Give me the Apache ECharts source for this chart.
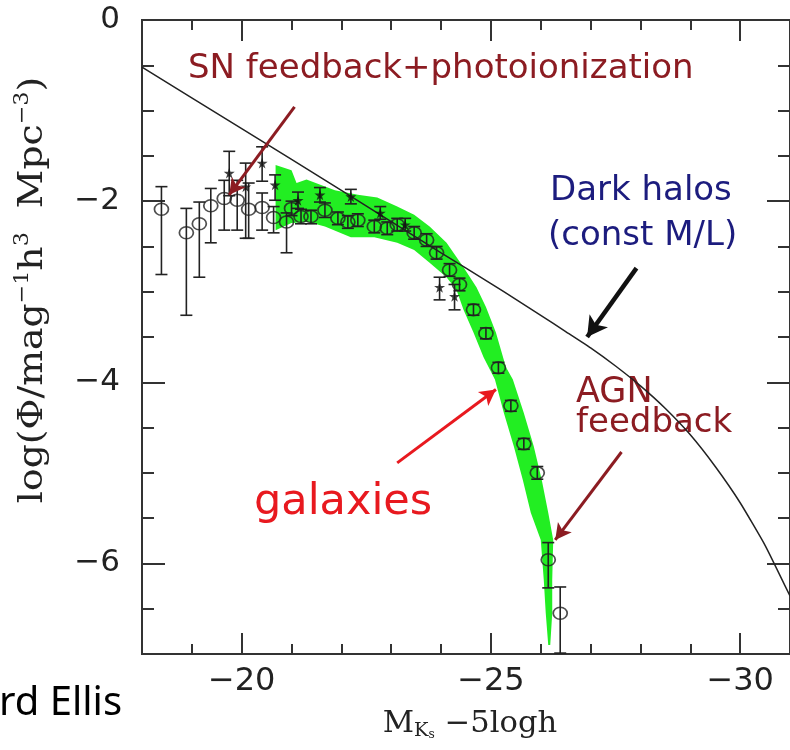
<!DOCTYPE html>
<html>
<head>
<meta charset="utf-8">
<script src="https://cdn.jsdelivr.net/npm/echarts@6/dist/echarts.min.js"></script>
<style>
  html, body { margin: 0; padding: 0; background: #fff; }
  #chart-container { width: 790px; height: 750px; }
</style>
</head>
<body>
<div id="chart-container"></div>
<script>
let dom = document.getElementById("chart-container");
let myChart = echarts.init(dom, null, { renderer: "canvas" });
let option;

// tick positions
const xMajor = [-30, -25, -20];
const xMinor = [-31, -29, -28, -27, -26, -24, -23, -22, -21, -19, -18];
const yMajor = [-6, -4, -2, 0];
const yMinor = [-6.5, -5.5, -5, -4.5, -3.5, -3, -2.5, -1.5, -1, -0.5];

// dark halo mass function (const M/L), [M, logPhi]
const haloCurve = [
  [-18, -0.52], [-20, -1.2], [-22, -1.88], [-24, -2.57], [-25, -2.91],
  [-25.5, -3.085], [-26, -3.26], [-26.5, -3.44], [-27, -3.62], [-27.5, -3.82],
  [-28, -4.04], [-28.5, -4.29], [-29, -4.58], [-29.5, -4.93], [-30, -5.33],
  [-30.5, -5.8], [-31, -6.36],
];

// green model band: upper and lower edge
const bandTop = [
  [-20.68, -1.6], [-21.0, -1.66], [-21.1, -1.8], [-21.3, -1.76], [-21.87, -1.88],
  [-22.33, -1.93], [-22.72, -1.96], [-23.12, -2.06], [-23.46, -2.15], [-23.77, -2.28],
  [-24.11, -2.46], [-24.45, -2.73], [-24.71, -2.95], [-24.9, -3.17], [-25.1, -3.45],
  [-25.3, -3.83], [-25.44, -3.97], [-25.66, -4.34], [-25.86, -4.71], [-26.02, -5.08],
  [-26.15, -5.44], [-26.25, -5.74], [-26.23, -6.18], [-26.23, -6.55], [-26.19, -6.9],
];
const bandBottom = [
  [-20.68, -2.32], [-21.0, -2.24], [-21.33, -2.23], [-21.67, -2.28], [-22.19, -2.4],
  [-22.66, -2.4], [-23.12, -2.46], [-23.46, -2.54], [-23.77, -2.68], [-24.11, -2.84],
  [-24.31, -2.98], [-24.45, -3.2], [-24.65, -3.45], [-24.85, -3.72], [-25.08, -3.97],
  [-25.26, -4.34], [-25.46, -4.71], [-25.64, -5.08], [-25.8, -5.44], [-26.0, -5.74],
  [-26.06, -6.18], [-26.1, -6.55], [-26.15, -6.9],
];

// open circles: [M, logPhi, low, high]
const circlePts = [
  [-18.39, -2.09, -2.81, -1.84], [-18.89, -2.35, -3.26, -2.08], [-19.15, -2.25, -2.84, -2.01],
  [-19.38, -2.05, -2.46, -1.86], [-19.65, -1.97, -2.32, -1.77], [-19.91, -1.99, -2.32, -1.77],
  [-20.14, -2.09, -2.41, -1.8], [-20.41, -2.07, -2.32, -1.91], [-20.64, -2.18, -2.35, -2.06],
  [-20.9, -2.23, -2.57, -2.13],
  [-21.0, -2.08, -2.16, -2.0], [-21.19, -2.17, -2.25, -2.09], [-21.39, -2.17, -2.25, -2.1],
  [-21.67, -2.1, -2.18, -2.02], [-21.93, -2.19, -2.26, -2.12], [-22.13, -2.23, -2.3, -2.16],
  [-22.33, -2.21, -2.28, -2.14], [-22.66, -2.28, -2.35, -2.21], [-22.92, -2.3, -2.37, -2.23],
  [-23.12, -2.26, -2.33, -2.19], [-23.46, -2.35, -2.42, -2.28], [-23.71, -2.43, -2.5, -2.36],
  [-23.91, -2.57, -2.64, -2.5], [-24.17, -2.76, -2.83, -2.69], [-24.37, -2.92, -2.99, -2.85],
  [-24.65, -3.2, -3.26, -3.14], [-24.9, -3.46, -3.52, -3.4], [-25.15, -3.84, -3.9, -3.78],
  [-25.4, -4.26, -4.32, -4.2], [-25.66, -4.68, -4.74, -4.62], [-25.93, -5.0, -5.07, -4.93],
  [-26.15, -5.96, -6.27, -5.77], [-26.39, -6.55, -6.99, -6.26],
];

// filled stars: [M, logPhi, low, high]
const starPts = [
  [-19.75, -1.69, -1.94, -1.45], [-20.08, -1.84, -2.41, -1.58], [-20.41, -1.58, -1.78, -1.4],
  [-20.67, -1.82, -1.99, -1.71], [-21.13, -1.99, -2.08, -1.9], [-21.57, -1.93, -2.01, -1.85],
  [-22.19, -1.95, -2.03, -1.87], [-22.78, -2.13, -2.2, -2.06], [-23.28, -2.26, -2.33, -2.19],
  [-23.97, -2.95, -3.09, -2.84], [-24.27, -3.05, -3.2, -2.92],
];

const fmt = (v) => (v < 0 ? "\u2212" + Math.abs(v) : String(v));
const axisColor = "#333";

function xAx(pos, ticks, len, labels) {
  return {
    type: "value",
    position: pos,
    min: -31,
    max: -18,
    inverse: true,
    axisLine: { show: true, onZero: false, lineStyle: { color: axisColor, width: 2 } },
    axisTick: { show: true, inside: true, length: len, customValues: ticks,
      lineStyle: { color: axisColor, width: 2 } },
    axisLabel: labels
      ? { show: true, customValues: ticks, formatter: fmt, margin: 12,
          fontSize: 32, fontFamily: "DejaVu Sans", color: "#222" }
      : { show: false },
    splitLine: { show: false },
  };
}

function yAx(pos, ticks, len, labels) {
  return {
    type: "value",
    position: pos,
    min: -7,
    max: 0,
    axisLine: { show: true, onZero: false, lineStyle: { color: axisColor, width: 2 } },
    axisTick: { show: true, inside: true, length: len, customValues: ticks,
      lineStyle: { color: axisColor, width: 2 } },
    axisLabel: labels
      ? { show: true, customValues: ticks, formatter: fmt, margin: 22,
          fontSize: 31, fontFamily: "DejaVu Sans", color: "#222" }
      : { show: false },
    splitLine: { show: false },
  };
}

function renderErr(params, api) {
  const x = api.value(0);
  const lo = api.value(2);
  const hi = api.value(3);
  const a = api.coord([x, hi]);
  const b = api.coord([x, lo]);
  const w = 6;
  const st = { stroke: "#222", lineWidth: 1.6 };
  return {
    type: "group",
    children: [
      { type: "line", shape: { x1: a[0], y1: a[1], x2: b[0], y2: b[1] }, style: st },
      { type: "line", shape: { x1: a[0] - w, y1: a[1], x2: a[0] + w, y2: a[1] }, style: st },
      { type: "line", shape: { x1: b[0] - w, y1: b[1], x2: b[0] + w, y2: b[1] }, style: st },
    ],
  };
}

const bandOutline = bandTop.concat(bandBottom.slice().reverse());

const starPath =
  "path://M50,0 L61,35 L98,35 L68,57 L79,91 L50,70 L21,91 L32,57 L2,35 L39,35 Z";

const darkRed = "#8c1c22";

option = {
  animation: false,
  backgroundColor: "#fff",
  grid: { left: 142, top: 20, width: 655, height: 634 },
  xAxis: [
    xAx("bottom", xMajor, 21, true),
    xAx("bottom", xMinor, 10, false),
    xAx("top", xMajor, 21, false),
    xAx("top", xMinor, 10, false),
  ],
  yAxis: [
    yAx("left", yMajor, 23, true),
    yAx("left", yMinor, 12, false),
    yAx("right", yMajor, 23, false),
    yAx("right", yMinor, 12, false),
  ],
  series: [
    {
      name: "model",
      type: "custom",
      clip: true,
      data: [bandOutline[0]],
      renderItem: (params, api) => ({
        type: "polygon",
        shape: { points: bandOutline.map((p) => api.coord(p)) },
        style: { fill: "#22ee22" },
      }),
      z: 1,
    },
    {
      name: "Dark halos",
      type: "line",
      data: haloCurve,
      showSymbol: false,
      smooth: 0.15,
      lineStyle: { color: "#222", width: 1.5 },
      z: 2,
      markLine: {
        silent: true,
        symbol: ["none", "arrow"],
        label: { show: false },
        data: [
          [
            { coord: [-21.06, -0.96], lineStyle: { color: darkRed, width: 3, type: "solid" } },
            { coord: [-19.75, -1.93], symbolSize: [13, 16] },
          ],
          [
            { coord: [-27.92, -2.74], lineStyle: { color: "#111", width: 4.5, type: "solid" } },
            { coord: [-26.93, -3.5], symbolSize: [17, 20] },
          ],
          [
            { coord: [-27.62, -4.77], lineStyle: { color: darkRed, width: 3, type: "solid" } },
            { coord: [-26.29, -5.74], symbolSize: [13, 16] },
          ],
          [
            { coord: [-23.12, -4.89], lineStyle: { color: "#e8191f", width: 3, type: "solid" } },
            { coord: [-25.1, -4.08], symbolSize: [13, 16] },
          ],
        ],
      },
    },
    {
      name: "errors",
      type: "custom",
      data: circlePts.concat(starPts),
      encode: { x: 0, y: 1 },
      renderItem: renderErr,
      z: 3,
    },
    {
      name: "circles",
      type: "scatter",
      data: circlePts.map((p) => [p[0], p[1]]),
      symbol: "circle",
      symbolSize: [14, 12],
      itemStyle: { color: "rgba(0,0,0,0)", borderColor: "#222", borderWidth: 1.6 },
      z: 4,
    },
    {
      name: "stars",
      type: "scatter",
      data: starPts.map((p) => [p[0], p[1]]),
      symbol: starPath,
      symbolSize: 11,
      itemStyle: { color: "#111" },
      z: 4,
    },
  ],
  graphic: [
    {
      type: "text", x: 188, y: 69,
      style: { text: "SN feedback+photoionization", fill: darkRed,
        font: "34px 'DejaVu Sans'", textVerticalAlign: "middle" },
    },
    {
      type: "text", x: 550, y: 191,
      style: { text: "Dark halos", fill: "#1c1c7e",
        font: "34px 'DejaVu Sans'", textVerticalAlign: "middle" },
    },
    {
      type: "text", x: 548, y: 236,
      style: { text: "(const M/L)", fill: "#1c1c7e",
        font: "34px 'DejaVu Sans'", textVerticalAlign: "middle" },
    },
    {
      type: "text", x: 576, y: 393,
      style: { text: "AGN", fill: darkRed,
        font: "35px 'DejaVu Sans'", textVerticalAlign: "middle" },
    },
    {
      type: "text", x: 576, y: 423,
      style: { text: "feedback", fill: darkRed,
        font: "34px 'DejaVu Sans'", textVerticalAlign: "middle" },
    },
    {
      type: "text", x: 254, y: 503,
      style: { text: "galaxies", fill: "#e8191f",
        font: "43px 'DejaVu Sans'", textVerticalAlign: "middle" },
    },
    {
      type: "text", x: 33, y: 290, rotation: Math.PI / 2, scaleX: 1.11,
      style: {
        text: "{n|log(\u03A6/mag}{s|\u22121}{n|h}{s|3}{n|  Mpc}{s|\u22123}{n|)}",
        textAlign: "center", textVerticalAlign: "middle", fill: "#222",
        rich: {
          n: { fontSize: 34, fontFamily: "DejaVu Serif", lineHeight: 40 },
          s: { fontSize: 20, fontFamily: "DejaVu Serif", verticalAlign: "top", lineHeight: 40, padding: [0, 0, 12, 0] },
        },
      },
    },
    {
      type: "text", x: 470, y: 724, scaleX: 1.02,
      style: {
        text: "{n|M}{b|K}{c|s}{n| \u22125logh}",
        textAlign: "center", textVerticalAlign: "middle", fill: "#222",
        rich: {
          n: { fontSize: 30, fontFamily: "DejaVu Serif", lineHeight: 34 },
          b: { fontSize: 19, fontFamily: "DejaVu Serif", verticalAlign: "bottom", lineHeight: 34, padding: [14, 0, 0, 0] },
          c: { fontSize: 12, fontFamily: "DejaVu Serif", verticalAlign: "bottom", lineHeight: 34, padding: [20, 0, 0, 0] },
        },
      },
    },
    {
      type: "text", x: -1, y: 704,
      style: { text: "rd Ellis", fill: "#000",
        font: "40px 'Noto Sans'", textVerticalAlign: "middle" },
    },
  ],
};

if (option && typeof option === "object") {
  myChart.setOption(option);
}

window.addEventListener("resize", myChart.resize);
</script>
</body>
</html>
